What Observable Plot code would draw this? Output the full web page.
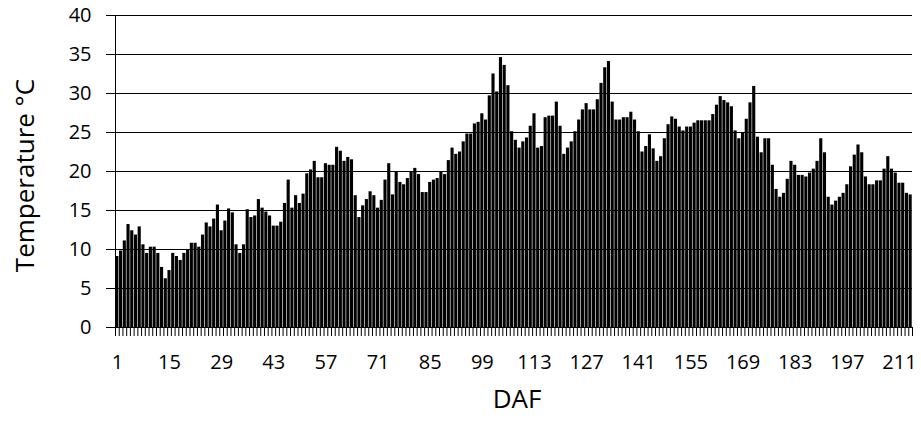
<!DOCTYPE html>
<html><head><meta charset="utf-8">
<script src="https://cdn.jsdelivr.net/npm/d3@7"></script>
<script src="https://cdn.jsdelivr.net/npm/@observablehq/plot@0.6"></script>
<style>body{margin:0;background:#fff} svg{display:block}</style>
</head><body><div id="chart"></div>
<script>
// Daily temperature (°C) by DAF
const temps = [
  9.1, 9.8, 11.1, 13.2, 12.4, 11.85, 12.9, 10.6, 9.5, 10.3,
  10.3, 9.5, 7.7, 6.25, 7.3, 9.5, 9.1, 8.6, 9.5, 10.0,
  10.8, 10.8, 10.3, 11.85, 13.4, 12.9, 13.9, 15.7, 12.4, 13.65,
  15.2, 14.7, 10.6, 9.5, 10.6, 15.1, 14.1, 14.3, 16.4, 15.3,
  14.8, 14.3, 13.0, 13.0, 13.5, 15.9, 18.9, 15.3, 16.9, 15.9,
  17.1, 19.7, 20.2, 21.3, 19.2, 19.2, 21.0, 20.8, 20.8, 23.1,
  22.6, 21.3, 21.8, 21.5, 16.9, 14.1, 15.6, 16.4, 17.4, 16.9,
  15.3, 16.3, 18.9, 21.0, 17.0, 19.9, 18.6, 18.3, 19.1, 19.9,
  20.4, 19.6, 17.3, 17.3, 18.6, 18.9, 19.1, 19.9, 19.6, 21.4,
  23.0, 22.2, 22.5, 23.8, 24.8, 24.8, 26.1, 26.3, 27.4, 26.6,
  29.7, 32.5, 30.2, 34.6, 33.6, 31.0, 25.1, 24.0, 23.0, 23.8,
  24.3, 25.8, 27.4, 23.0, 23.2, 26.9, 27.1, 27.1, 28.9, 25.8,
  22.2, 23.0, 23.8, 25.1, 26.6, 27.9, 28.7, 27.9, 27.9, 29.2,
  31.3, 33.3, 34.1, 28.9, 26.6, 26.6, 26.9, 26.9, 27.6, 26.6,
  25.1, 22.5, 23.2, 24.7, 22.9, 21.3, 21.9, 24.2, 26.0, 27.0,
  26.7, 25.7, 25.2, 25.7, 25.7, 26.2, 26.5, 26.5, 26.5, 26.5,
  27.3, 28.5, 29.6, 29.1, 28.8, 28.3, 25.2, 24.2, 24.9, 26.7,
  28.8, 30.9, 24.4, 22.4, 24.2, 24.2, 20.8, 17.7, 16.7, 17.2,
  19.0, 21.3, 20.8, 19.5, 19.5, 19.3, 19.8, 20.3, 21.3, 24.2,
  22.4, 16.7, 15.7, 16.2, 16.7, 17.2, 18.3, 20.6, 22.1, 23.4,
  22.4, 19.3, 18.3, 18.3, 18.8, 18.8, 20.3, 21.9, 20.3, 19.8,
  18.5, 18.5, 17.2, 17.0
];
const days = temps.map((_, i) => i + 1);
const xTickLabels = [1, 15, 29, 43, 57, 71, 85, 99, 113, 127, 141, 155, 169, 183, 197, 211];
const yTicks = [0, 5, 10, 15, 20, 25, 30, 35, 40];
const yTitle = "Temperature °C";
const xTitle = "DAF";

const W = 921, H = 428, mL = 115, mR = 9, mT = 15, mB = 101;
const bw = (W - mL - mR) / days.length;
const pxPerUnit = (H - mT - mB) / 40;
const tickLen = 9 / pxPerUnit;
const data = days.map((d, i) => ({day: d, temp: temps[i]}));

const chart = Plot.plot({
  width: W, height: H,
  marginLeft: mL, marginRight: mR, marginTop: mT, marginBottom: mB,
  style: {fontFamily: "'Open Sans', sans-serif", fontSize: "20px", color: "#000", background: "#fff", overflow: "visible"},
  x: {type: "band", domain: days, padding: 0, label: null},
  y: {domain: [0, 40], label: null},
  marks: [
    Plot.ruleY(yTicks.filter(v => v > 0), {stroke: "#000", strokeWidth: 1}),
    Plot.barY(data, {x: "day", y: "temp", fill: "#000", insetLeft: 0.3, insetRight: 0.3}),
    Plot.ruleY([0], {stroke: "#000"}),
    Plot.ruleX([days[0]], {dx: -bw / 2, stroke: "#000"}),
    Plot.ruleX(days, {x: d => d, dx: -bw / 2, y1: 0, y2: -tickLen, stroke: "#000", strokeWidth: 1}),
    Plot.ruleX([days[days.length - 1]], {x: d => d, dx: bw / 2, y1: 0, y2: -tickLen, stroke: "#000"}),
    Plot.axisY({ticks: yTicks, tickSize: 9, tickPadding: 15, tickFormat: d => d, label: null}),
    Plot.axisX({ticks: xTickLabels, tickSize: 0, tickPadding: 27, tickFormat: d => d, label: null}),
    Plot.text([yTitle], {text: d => d, frameAnchor: "left", dx: -90, dy: 4, rotate: -90, fontSize: 26, textAnchor: "middle", lineAnchor: "middle"}),
    Plot.text([xTitle], {text: d => d, frameAnchor: "bottom", dx: 3, dy: 72, fontSize: 26, textAnchor: "middle", lineAnchor: "middle"})
  ]
});
document.getElementById("chart").appendChild(chart);
</script>
</body></html>
